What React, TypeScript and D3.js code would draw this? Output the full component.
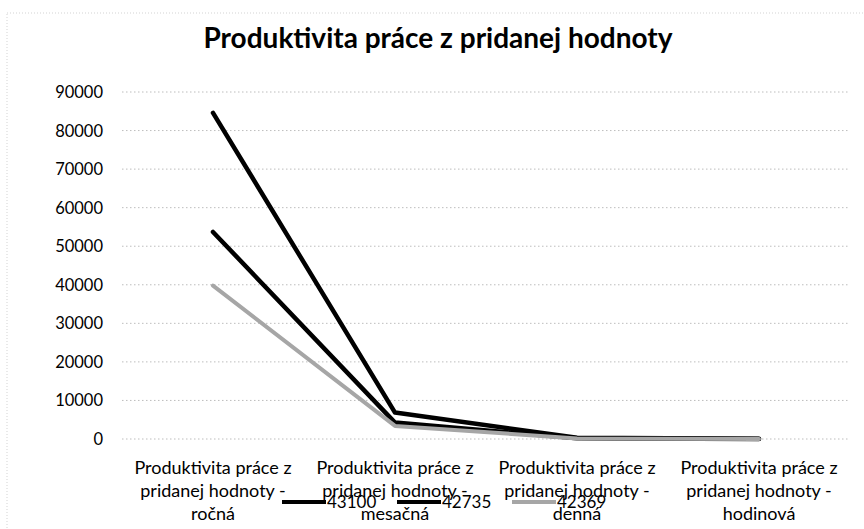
import React from "react";
import * as d3 from "d3";

const categories = [
  ["Produktivita práce z", "pridanej hodnoty -", "ročná"],
  ["Produktivita práce z", "pridanej hodnoty -", "mesačná"],
  ["Produktivita práce z", "pridanej hodnoty -", "denná"],
  ["Produktivita práce z", "pridanej hodnoty -", "hodinová"],
];
const seriesNames = ["43100", "42735", "42369"];
const values43100 = [84600, 6850, 320, 40];
const values42735 = [53700, 4250, 200, 26];
const values42369 = [39800, 3400, 160, 20];
const yTicks = [0, 10000, 20000, 30000, 40000, 50000, 60000, 70000, 80000, 90000];
const seriesColors = ["#000000", "#000000", "#a6a6a6"];

export default function App() {
  const W = 864, H = 529;
  const left = 122, right = 850, top = 92, bottom = 439;
  const x = d3.scaleBand<number>().domain(categories.map((_, i) => i)).range([left, right]);
  const y = d3.scaleLinear().domain([0, 90000]).range([bottom, top]);
  const line = d3.line<number>().x((_, i) => (x(i) as number) + x.bandwidth() / 2).y((d) => y(d));
  const series = [values43100, values42735, values42369];
  const font = "Lato, 'Open Sans', sans-serif";
  const legendX = [282, 397, 512];
  return (
    <svg width={W} height={H} style={{ position: "absolute", left: 0, top: 0, background: "#fff" }}>
      <rect x={7} y={13} width={W} height={H} fill="none" stroke="#c8c8c8" strokeWidth={0.8} strokeDasharray="1 2" />
      <text x={438} y={48} textAnchor="middle" fontFamily={font} fontWeight={700} fontSize={28} fill="#000">
        Produktivita práce z pridanej hodnoty
      </text>
      {yTicks.map((t) => (
        <g key={t}>
          <line x1={left} x2={right} y1={y(t)} y2={y(t)} stroke="#bdbdbd" strokeWidth={1} strokeDasharray="1.5 2.5" />
          <text x={103} y={y(t) + 6} textAnchor="end" fontFamily={font} fontSize={16.5} fill="#000">
            {t}
          </text>
        </g>
      ))}
      {series.map((vals, si) => (
        <path
          key={si}
          d={line(vals) || ""}
          fill="none"
          stroke={seriesColors[si]}
          strokeWidth={si === 2 ? 4 : 4.5}
          strokeLinejoin="round"
          strokeLinecap="round"
        />
      ))}
      {categories.map((lines, i) => (
        <text key={i} textAnchor="middle" fontFamily={font} fontSize={18} fill="#000">
          {lines.map((l, j) => (
            <tspan key={j} x={(x(i) as number) + x.bandwidth() / 2} y={474 + j * 23}>
              {l}
            </tspan>
          ))}
        </text>
      ))}
      {seriesNames.map((n, i) => (
        <g key={n}>
          <line x1={legendX[i]} x2={legendX[i] + 44} y1={502} y2={502} stroke={seriesColors[i]} strokeWidth={4} />
          <text x={legendX[i] + 45} y={508} fontFamily={font} fontSize={17} fill="#000">
            {n}
          </text>
        </g>
      ))}
    </svg>
  );
}
